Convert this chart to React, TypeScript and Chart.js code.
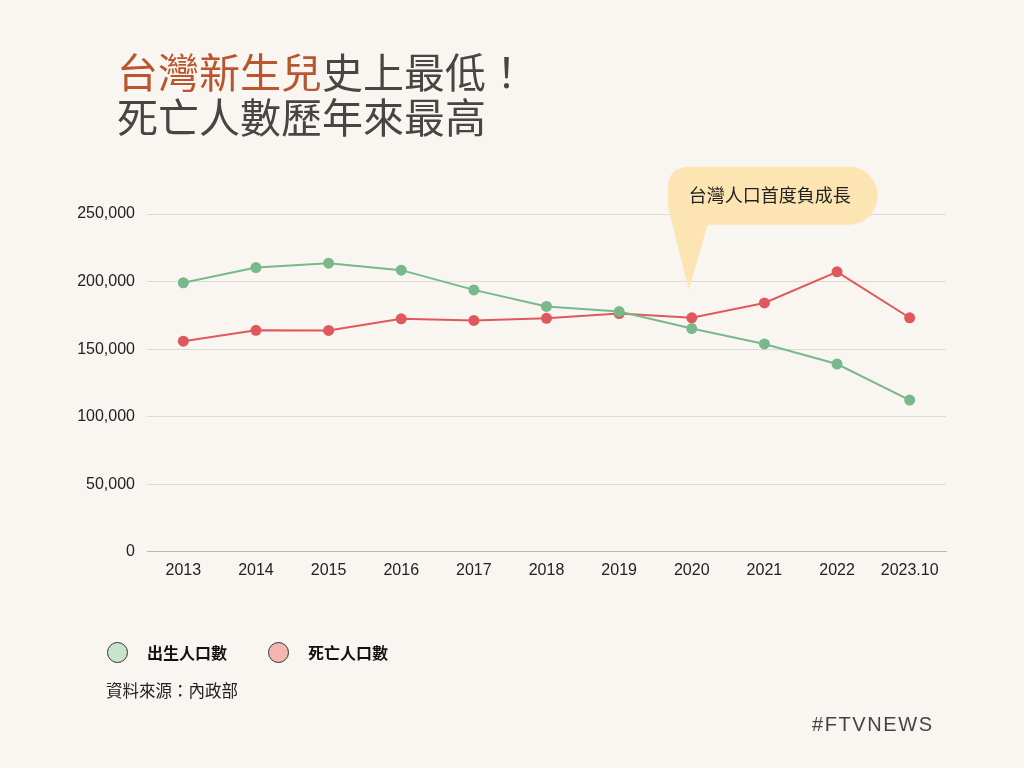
import React, { useEffect, useRef } from "react";
import { Chart, registerables } from "chart.js";

Chart.register(...registerables);

const categories = ["2013", "2014", "2015", "2016", "2017", "2018", "2019", "2020", "2021", "2022", "2023.10"];
const births = [199113, 210383, 213598, 208440, 193844, 181601, 177767, 165249, 153820, 138986, 112300];
const deaths = [155908, 163929, 163858, 172405, 171242, 172784, 176296, 173156, 184172, 207230, 173200];
const yTicks = [0, 50000, 100000, 150000, 200000, 250000];
const calloutText = "台灣人口首度負成長";
const calloutCategory = "2020";
const calloutValue = 194000;

const BG = "#f9f6f1";
const CJK = '"Noto Sans CJK TC", "Noto Sans CJK SC", sans-serif';
const LATIN = '"Liberation Sans", Arial, sans-serif';

const calloutPlugin = {
  id: "callout",
  afterDraw(chart: any) {
    const ctx = chart.ctx;
    const xs = chart.scales.x;
    const ys = chart.scales.y;
    const tipX = xs.getPixelForValue(categories.indexOf(calloutCategory)) - 3;
    const tipY = ys.getPixelForValue(calloutValue);
    const left = tipX - 21;
    const right = tipX + 189;
    const top = tipY - 123;
    const bottom = tipY - 65;
    const r = (bottom - top) / 2;
    ctx.save();
    ctx.fillStyle = "#fce4b3";
    ctx.beginPath();
    ctx.moveTo(left + 22, top);
    ctx.lineTo(right - r, top);
    ctx.arc(right - r, top + r, r, -Math.PI / 2, Math.PI / 2);
    ctx.lineTo(tipX + 19, bottom);
    ctx.lineTo(tipX, tipY);
    ctx.quadraticCurveTo(left + 2, bottom - 10, left, bottom - 20);
    ctx.lineTo(left, top + 22);
    ctx.quadraticCurveTo(left, top, left + 22, top);
    ctx.closePath();
    ctx.fill();
    ctx.fillStyle = "#222";
    ctx.font = `18px ${CJK}`;
    ctx.textAlign = "center";
    ctx.textBaseline = "middle";
    ctx.fillText(calloutText, (left + right - 8) / 2 + 1, top + r - 1);
    ctx.restore();
  },
};

export default function App() {
  const ref = useRef<HTMLCanvasElement>(null);
  useEffect(() => {
    if (!ref.current) return;
    const chart = new Chart(ref.current, {
      type: "line",
      data: {
        labels: categories,
        datasets: [
          {
            label: "出生人口數",
            data: births,
            borderColor: "#77b98a",
            backgroundColor: "#77b98a",
            pointBackgroundColor: "#77b98a",
            pointBorderWidth: 0,
            pointRadius: 5.5,
            borderWidth: 2,
            tension: 0,
          },
          {
            label: "死亡人口數",
            data: deaths,
            borderColor: "#e0585c",
            backgroundColor: "#e0585c",
            pointBackgroundColor: "#e0585c",
            pointBorderWidth: 0,
            pointRadius: 5.5,
            borderWidth: 2,
            tension: 0,
          },
        ],
      },
      options: {
        animation: false,
        responsive: false,
        devicePixelRatio: 1,
        layout: { padding: { top: 214, right: 78, bottom: 179, left: 0 } },
        plugins: { legend: { display: false }, tooltip: { enabled: false } },
        scales: {
          x: {
            offset: true,
            grid: { display: false, drawTicks: false },
            border: { display: true, color: "#b9b6b1", width: 1 },
            ticks: { color: "#222", font: { family: LATIN, size: 16 }, padding: 9, maxRotation: 0 },
          },
          y: {
            min: 0,
            max: 250000,
            afterBuildTicks: (s: any) => {
              s.ticks = yTicks.map((v) => ({ value: v }));
            },
            afterFit: (s: any) => {
              s.width = 147;
            },
            grid: { color: "#dedbd5", drawTicks: false, lineWidth: 1 },
            border: { display: false },
            ticks: {
              color: "#222",
              font: { family: LATIN, size: 16 },
              padding: 12,
              callback: (v: any) => Number(v).toLocaleString("en-US"),
            },
          },
        },
      },
      plugins: [calloutPlugin],
    });
    return () => chart.destroy();
  }, []);

  return (
    <div style={{ position: "fixed", left: 0, top: 0, width: 1024, height: 768, background: BG, overflow: "hidden" }}>
      <canvas ref={ref} width={1024} height={768} style={{ position: "absolute", left: 0, top: 0 }} />
      <div
        style={{
          position: "absolute",
          left: 117,
          top: 48,
          fontFamily: CJK,
          fontSize: 41,
          lineHeight: "45px",
          color: "#4a4542",
          whiteSpace: "nowrap",
        }}
      >
        <div>
          <span style={{ color: "#b9552f" }}>台灣新生兒</span>史上最低！
        </div>
        <div>死亡人數歷年來最高</div>
      </div>
      <div style={{ position: "absolute", left: 107, top: 642, width: 21, height: 21, borderRadius: "50%", background: "#c7e5cd", border: "1px solid #333", boxSizing: "border-box" }} />
      <div style={{ position: "absolute", left: 147, top: 640, fontFamily: CJK, fontWeight: 700, fontSize: 16, color: "#111", whiteSpace: "nowrap" }}>出生人口數</div>
      <div style={{ position: "absolute", left: 268, top: 642, width: 21, height: 21, borderRadius: "50%", background: "#f1b7b0", border: "1px solid #333", boxSizing: "border-box" }} />
      <div style={{ position: "absolute", left: 308, top: 640, fontFamily: CJK, fontWeight: 700, fontSize: 16, color: "#111", whiteSpace: "nowrap" }}>死亡人口數</div>
      <div style={{ position: "absolute", left: 106, top: 678, fontFamily: CJK, fontSize: 16.5, color: "#222", whiteSpace: "nowrap" }}>資料來源：內政部</div>
      <div style={{ position: "absolute", left: 812, top: 713, fontFamily: LATIN, fontSize: 20, letterSpacing: 1.6, color: "#444", whiteSpace: "nowrap" }}>#FTVNEWS</div>
    </div>
  );
}
